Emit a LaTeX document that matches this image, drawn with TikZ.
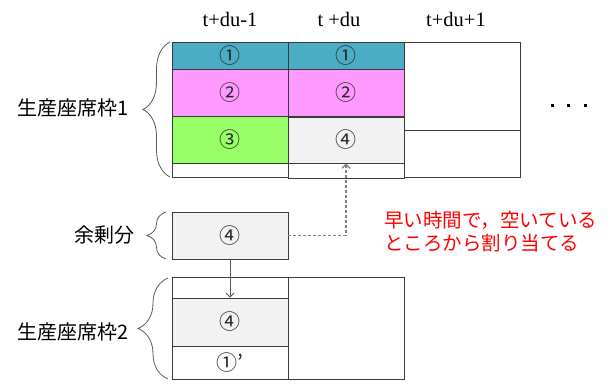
\documentclass[tikz,border=0pt]{standalone}
\usepackage{fontspec}
\setmainfont{Liberation Serif}
\newfontfamily\jp{Noto Sans CJK JP}
\usetikzlibrary{arrows.meta,decorations.pathreplacing}
\definecolor{cyanc}{HTML}{4BACC6}
\definecolor{pinkc}{HTML}{FF99FF}
\definecolor{greenc}{HTML}{99FF66}
\definecolor{grayc}{HTML}{F2F2F2}
\definecolor{linec}{HTML}{3A3A3A}
\definecolor{bracec}{HTML}{595959}
\definecolor{dashc}{HTML}{808080}
\begin{document}
\begin{tikzpicture}[x=1pt,y=-1pt,
  cell/.style={draw=linec, line width=0.8pt, minimum width=116pt, inner sep=0pt,
    font=\jp\fontsize{21}{21}\selectfont, text=black!85},
  hdr/.style={font=\fontsize{20.5}{24}\selectfont, anchor=base, inner sep=0pt},
  lbl/.style={font=\jp\fontsize{20}{24}\selectfont, anchor=east, inner sep=0pt},
  brc/.style={decorate, decoration={brace, amplitude=#1}, draw=bracec, line width=0.8pt},
  conn/.style={draw=bracec, line width=0.9pt, -{Straight Barb[length=4pt,width=8pt]}},
  dconn/.style={draw=dashc, line width=1.3pt, dash pattern=on 3pt off 2pt,
    -{Straight Barb[length=4pt,width=8pt]}},
  dotbox/.style={fill=black, minimum size=3pt, inner sep=0pt}
]
\useasboundingbox (0,0) rectangle (616,383);

% headers
\node[hdr] (h1) at (230,26) {t+du-1};
\node[hdr] (h2) at (339,26) {t +du};
\node[hdr] (h3) at (456,26) {t+du+1};

% top grid, column 1
\node[cell, fill=cyanc, minimum height=27pt] (c11) at (230,55.5) {①};
\node[cell, fill=pinkc, minimum height=47pt] (c12) at (230,92.5) {②};
\node[cell, fill=greenc, minimum height=47pt] (c13) at (230,139.5) {③};
\node[cell, fill=white, minimum height=14pt] (c14) at (230,170) {};
% column 2
\node[cell, fill=cyanc, minimum height=27pt] (c21) at (346,55.5) {①};
\node[cell, fill=pinkc, minimum height=47pt] (c22) at (346,92.5) {②};
\node[cell, fill=grayc, minimum height=46pt] (c23) at (346,140) {④};
\node[cell, fill=white, minimum height=15pt] (c24) at (346,170.5) {};
% column 3
\node[cell, fill=white, minimum height=88pt] (c31) at (462,86) {};
\node[cell, fill=white, minimum height=47pt] (c32) at (462,153.5) {};

% dots
\node[dotbox] (d1) at (552,105) {};
\node[dotbox] (d2) at (568,105) {};
\node[dotbox] (d3) at (585,105) {};

% surplus box
\node[cell, fill=grayc, minimum height=47pt] (ex) at (230,235.5) {④};

% bottom grid
\node[cell, fill=white, minimum height=102pt] (br) at (346,328) {};
\node[cell, fill=white, minimum height=21pt] (b0) at (230,287.5) {};
\node[cell, fill=white, minimum height=33pt] (b1) at (230,362.5) {①’};
\node[cell, fill=grayc, minimum height=48pt] (b4) at (230,322) {④};

% labels
\node[lbl] (L1) at (129,108) {生産座席枠1};
\node[lbl] (L2) at (135,235) {余剰分};
\node[lbl] (L3) at (129,332) {生産座席枠2};

% note
\node[anchor=west, align=left, font=\jp\fontsize{19.5}{23.5}\selectfont, text=red, inner sep=0pt]
  (note) at (384,231.5) {早い時間で，空いている\\ところから割り当てる};

% braces
\coordinate (br1s) at (170,177);
\coordinate (br1e) at (170,42);
\coordinate (br2s) at (166,259);
\coordinate (br2e) at (166,212);
\coordinate (br3s) at (168,379);
\coordinate (br3e) at (168,278);
\draw[brc=27] (br1s) -- (br1e);
\draw[brc=19] (br2s) -- (br2e);
\draw[brc=30] (br3s) -- (br3e);

% connectors
\draw[conn] (ex.south) -- (b4.north);
\draw[dconn] (ex.east) -| (c23.south);
\end{tikzpicture}
\end{document}
